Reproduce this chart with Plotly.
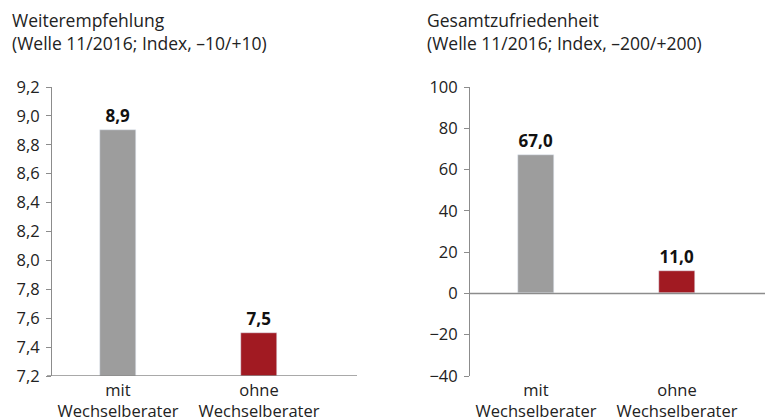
import plotly.graph_objects as go

categories = ["mit<br>Wechselberater", "ohne<br>Wechselberater"]
weiter_values = [8.9, 7.5]
gesamt_values = [67.0, 11.0]
bar_colors = ["#9d9d9d", "#a11a22"]
weiter_ticks = [7.2, 7.4, 7.6, 7.8, 8.0, 8.2, 8.4, 8.6, 8.8, 9.0, 9.2]
gesamt_ticks = [-40, -20, 0, 20, 40, 60, 80, 100]
title_left = "Weiterempfehlung<br>(Welle 11/2016; Index, –10/+10)"
title_right = "Gesamtzufriedenheit<br>(Welle 11/2016; Index, –200/+200)"

W, H = 773, 420
OFF = 8  # page body margin
FONT = "Open Sans, Noto Sans, sans-serif"
AX = "#8c8c8c"

def fx(px):
    return (px - OFF) / W

def fy(py):
    return 1 - (py - OFF) / H

fig = go.Figure()
for vals, xa, ya in [(weiter_values, "x", "y"), (gesamt_values, "x2", "y2")]:
    fig.add_trace(go.Bar(
        x=[0, 1], y=vals, marker_color=bar_colors, width=0.255,
        text=[f"{v:.1f}".replace(".", ",") for v in vals],
        textposition="outside", cliponaxis=False, constraintext="none",
        textfont=dict(family=FONT, size=17, color="#111", weight="bold"),
        xaxis=xa, yaxis=ya, showlegend=False,
    ))

common_y = dict(showgrid=False, zeroline=False, showline=True, linecolor=AX, linewidth=1,
                ticks="outside", ticklen=5, tickcolor=AX, automargin=False,
                ticklabelstandoff=3,
                tickfont=dict(family=FONT, size=16.5, color="#222"))
common_x = dict(showgrid=False, zeroline=False, showline=False, ticks="", automargin=False,
                ticklabelstandoff=2,
                tickfont=dict(family=FONT, size=16.5, color="#222"),
                tickvals=[0, 1], ticktext=categories)

fig.update_layout(
    width=W, height=H, margin=dict(l=0, r=0, t=0, b=0, autoexpand=False),
    paper_bgcolor="white", plot_bgcolor="white",
    separators=",.", bargap=0,
    font=dict(family=FONT),
    xaxis=dict(domain=[fx(52), fx(357)], range=[-0.468, 1.695], anchor="y", **common_x),
    yaxis=dict(domain=[fy(376), fy(87)], range=[7.2, 9.2], tickvals=weiter_ticks,
               tickformat=".1f", anchor="x", **common_y),
    xaxis2=dict(domain=[fx(470), fx(770)], range=[-0.468, 1.66], anchor="y2", **common_x),
    yaxis2=dict(domain=[fy(376), fy(87)], range=[-40, 100], tickvals=gesamt_ticks,
                tickformat="d", anchor="x2", **common_y),
    shapes=[
        dict(type="line", xref="paper", yref="y", x0=fx(47), x1=fx(357), y0=7.2, y1=7.2,
             line=dict(color=AX, width=1.5)),
        dict(type="line", xref="paper", yref="y2", x0=fx(470), x1=fx(770), y0=0, y1=0,
             line=dict(color=AX, width=1.5)),
    ],
    annotations=[
        dict(text=title_left, xref="paper", yref="paper", x=fx(10), y=fy(6),
             xanchor="left", yanchor="top", align="left", showarrow=False,
             font=dict(family=FONT, size=17.5, color="#222")),
        dict(text=title_right, xref="paper", yref="paper", x=fx(425), y=fy(6),
             xanchor="left", yanchor="top", align="left", showarrow=False,
             font=dict(family=FONT, size=17.5, color="#222")),
    ],
)

fig.write_html("out.html")
